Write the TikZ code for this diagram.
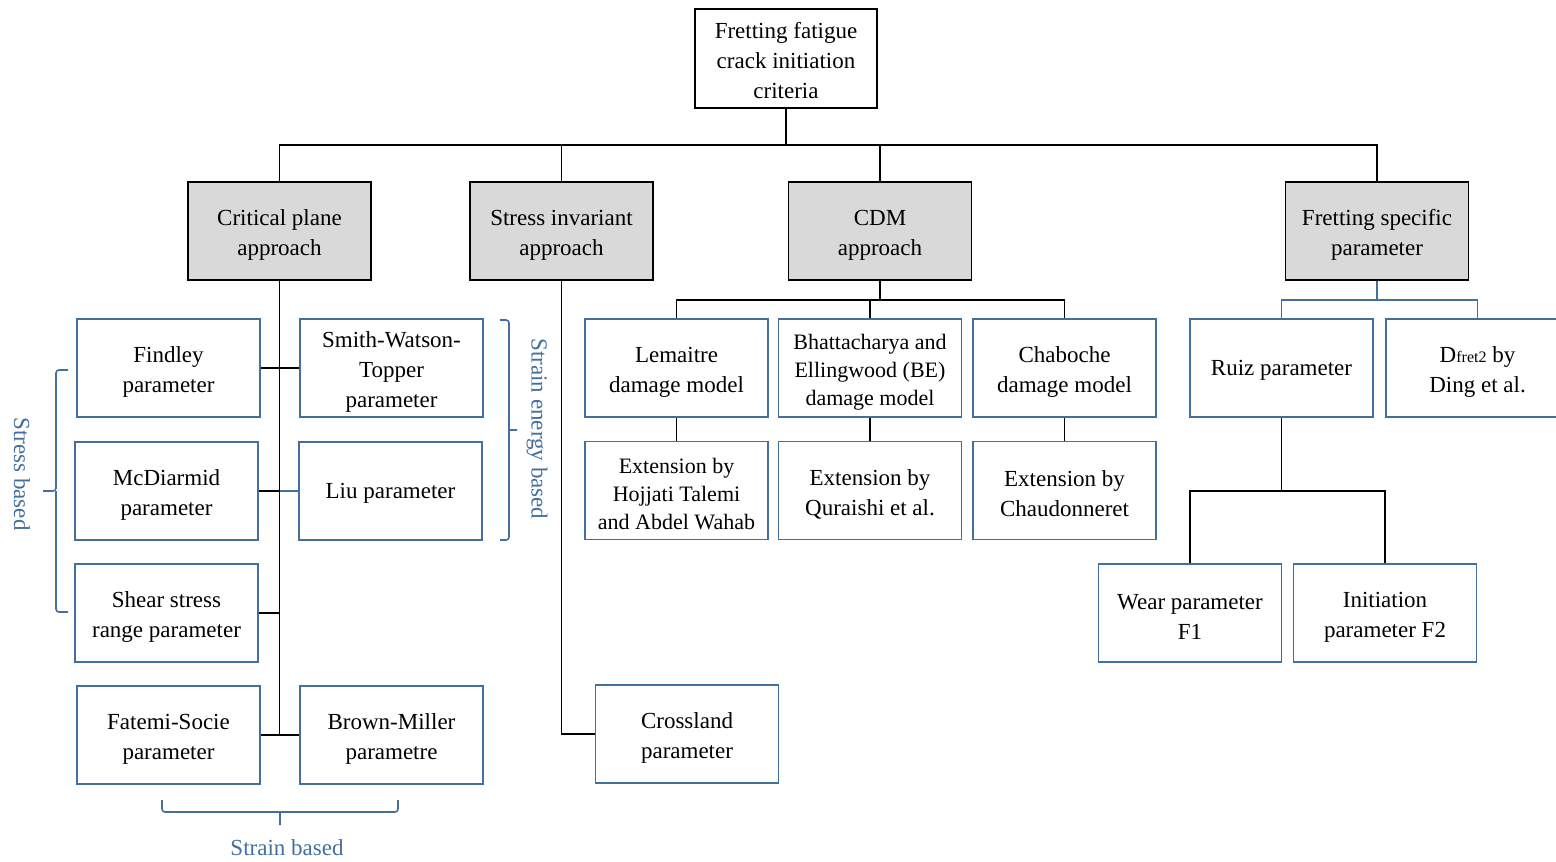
\documentclass[tikz,border=0pt]{standalone}
\usepackage{fontspec}
\setmainfont{Liberation Serif}
\definecolor{boxblue}{RGB}{66,110,160}
\definecolor{headgray}{RGB}{217,217,217}
% strut on the first line so that the text sits a little low in its box
\newcommand\lift{\rule{0pt}{11.5pt}}
\newcommand\liftless{\rule{0pt}{10pt}}
\begin{document}
\begin{tikzpicture}[x=0.5pt,y=-0.5pt,
  every node/.style={font=\fontsize{11.5}{15}\selectfont, align=center, inner sep=0pt},
  box/.style={draw=boxblue, line width=0.8pt, minimum width=91.5pt, minimum height=49pt},
  headbox/.style={draw=black, fill=headgray, line width=0.8pt, minimum width=91.5pt, minimum height=49pt},
  topbox/.style={draw=black, line width=0.8pt, minimum width=91pt, minimum height=49.5pt},
  conn/.style={draw=black, line width=0.9pt},
  bconn/.style={draw=boxblue, line width=0.9pt},
  brace/.style={draw=boxblue, line width=0.8pt, rounded corners=1.5pt},
  bracetext/.style={text=boxblue},
  tight/.style={font=\fontsize{11}{14}\selectfont}]
\useasboundingbox (0,0) rectangle (1556,861);

% root and first level
\node[topbox] (top) at (786,58.5) {\liftless Fretting fatigue\\crack initiation\\criteria};
\node[headbox] (cp) at (279.5,231) {\lift Critical plane\\approach};
\node[headbox] (si) at (561.5,231) {\lift Stress invariant\\approach};
\node[headbox] (cdm) at (880,231) {\lift CDM\\approach};
\node[headbox] (fs) at (1377,231) {\lift Fretting specific\\parameter};

% critical plane family
\node[box] (find) at (168.5,368) {\lift Findley\\parameter};
\node[box] (swt) at (391.5,368) {\lift Smith-Watson-\\Topper\\parameter};
\node[box] (mcd) at (166.5,491) {\lift McDiarmid\\parameter};
\node[box] (liu) at (390.5,491) {\liftless Liu parameter};
\node[box] (shear) at (166.5,613) {\lift Shear stress\\range parameter};
\node[box] (fat) at (168.5,735) {\lift Fatemi-Socie\\parameter};
\node[box] (bm) at (391.5,735) {\lift Brown-Miller\\parametre};

% stress invariant
\node[box] (cross) at (687,734) {\lift Crossland\\parameter};

% CDM family
\node[box] (lem) at (676.5,368) {\lift Lemaitre\\damage model};
\node[box, tight] (be) at (870,368) {\lift Bhattacharya and\\Ellingwood (BE)\\damage model};
\node[box] (cha) at (1064.5,368) {\lift Chaboche\\damage model};
\node[box, tight] (ext1) at (676.5,490.5) {\lift Extension by\\Hojjati Talemi\\and Abdel Wahab};
\node[box] (ext2) at (870,490.5) {\lift Extension by\\Quraishi et al.};
\node[box] (ext3) at (1064.5,490.5) {\lift Extension by\\Chaudonneret};

% fretting specific family
\node[box] (ruiz) at (1281.5,368) {\liftless Ruiz parameter};
\node[box] (ding) at (1477.5,368) {\lift D{\fontsize{8}{10}\selectfont fret2} by\\Ding et al.};
\node[box] (wear) at (1190,613) {\lift Wear parameter\\F1};
\node[box] (init) at (1385,613) {\lift Initiation\\parameter F2};

% bus levels
\coordinate (busA) at (0,145);
\coordinate (busB) at (0,300);
\coordinate (busC) at (0,491);

% root to first level
\draw[conn] (top.south) -- (top.south |- busA);
\draw[conn] (cp.north) -- (cp.north |- busA) -- (fs.north |- busA) -- (fs.north);
\draw[conn] (si.north) -- (si.north |- busA);
\draw[conn] (cdm.north) -- (cdm.north |- busA);

% critical plane spine
\draw[conn] (cp.south) -- (cp.south |- fat.east);
\draw[conn] (find.east) -- (swt.west);
\draw[conn] (mcd.east) -- (mcd.east -| cp.south);
\draw[bconn] (mcd.east -| cp.south) -- (liu.west);
\draw[conn] (shear.east) -- (shear.east -| cp.south);
\draw[conn] (fat.east) -- (bm.west);

% stress invariant branch
\draw[conn] (si.south) |- (cross.west);

% CDM branches
\draw[conn] (cdm.south) -- (cdm.south |- busB);
\draw[conn] (lem.north) -- (lem.north |- busB) -- (cha.north |- busB) -- (cha.north);
\draw[conn] (be.north) -- (be.north |- busB);
\draw[conn] (lem.south) -- (ext1.north);
\draw[conn] (be.south) -- (ext2.north);
\draw[conn] (cha.south) -- (ext3.north);

% fretting specific branches
\draw[bconn] (fs.south) -- (fs.south |- busB);
\draw[bconn] (ruiz.north) -- (ruiz.north |- busB) -- (ding.north |- busB) -- (ding.north);
\draw[conn] (ruiz.south) -- (ruiz.south |- busC);
\draw[conn] (wear.north) -- (wear.north |- busC) -- (init.north |- busC) -- (init.north);

% grouping braces
\draw[brace] (68,370) -- (56,370) -- (56,491) -- (43,491) (56,491) -- (56,612) -- (68,612);
\node[bracetext, rotate=-90] (stressb) at (22,474) {Stress based};

\draw[brace] (500,320) -- (509,320) -- (509,540) -- (500,540) (509,430) -- (517,430);
\node[bracetext, rotate=-90] (energyb) at (537,429) {Strain energy based};

\draw[brace] (162,800) -- (162,812) -- (398,812) -- (398,800) (280,812) -- (280,825);
\node[bracetext] (strainb) at (287,848) {Strain based};
\end{tikzpicture}
\end{document}
